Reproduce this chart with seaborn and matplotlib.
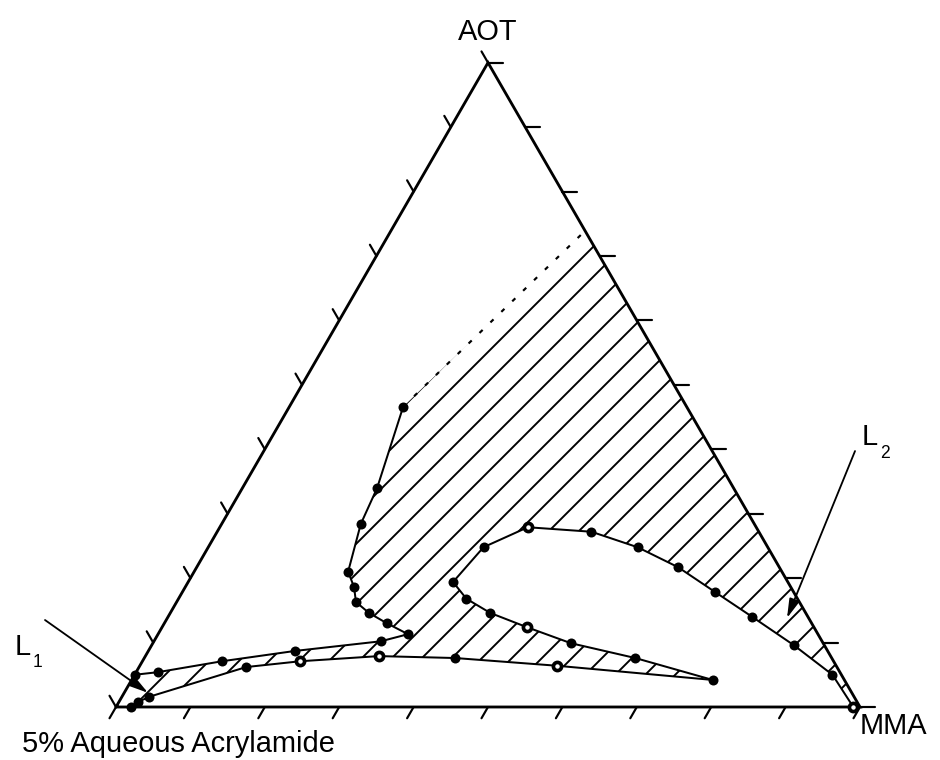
import numpy as np
import pandas as pd
import matplotlib
matplotlib.use("Agg")
import matplotlib.pyplot as plt
import seaborn as sns

# Ternary compositions in percent: MMA and AOT (5% aqueous acrylamide = 100 - MMA - AOT)
left_mma = [15.3, 18.1, 18.7, 20.7, 22.7, 24.1, 26.7, 29.9, 33.6]
left_aot = [46.6, 34.0, 28.4, 21.0, 18.6, 16.3, 14.6, 13.0, 11.3]
upper_mma = [33.6, 30.5, 19.7, 10.7, 2.9, 0.0]
upper_aot = [11.3, 10.2, 8.7, 7.1, 5.4, 5.0]
lower_mma = [78.1, 56.1, 41.8, 31.4, 21.2, 14.4, 3.7, 2.6, 2.0]
lower_aot = [4.2, 6.4, 7.6, 7.9, 7.1, 6.2, 1.6, 0.8, 0.0]
loop_mma = [99.1, 93.8, 86.3, 78.5, 71.5, 64.7, 57.7, 50.3, 41.4, 37.0, 35.6,
            38.7, 43.0, 49.0, 56.2, 66.0, 78.1]
loop_aot = [0.0, 5.0, 9.6, 14.0, 17.9, 21.7, 24.8, 27.2, 27.9, 24.8, 19.4,
            16.8, 14.6, 12.4, 9.9, 7.6, 4.2]
dotted_mma = [15.3, 26.1]
dotted_aot = [46.6, 73.9]
# points drawn as rings (small open centre)
ring_mma = [99.1, 41.4, 49.0, 56.1, 31.4, 21.2]
ring_aot = [0.0, 27.9, 12.4, 6.4, 7.9, 7.1]

corner_labels = ["5% Aqueous Acrylamide", "MMA", "AOT"]
n_ticks = 10

S3 = np.sqrt(3) / 2


def tern(mma, aot):
    b = np.asarray(mma, float) / 100.0
    c = np.asarray(aot, float) / 100.0
    return b + c / 2.0, c * S3


DPI = 90
k = 120 / DPI  # point-size scale so pixel sizes stay fixed

sns.set_style("white")
plt.rcParams["font.family"] = ["Liberation Sans", "DejaVu Sans"]
plt.rcParams["text.color"] = "black"
plt.rcParams["hatch.linewidth"] = 1.15 * k

fig = plt.figure(figsize=(940 / DPI, 760 / DPI), dpi=DPI)
ax = fig.add_axes([0, 0, 1, 1])
ax.set_xlim(-116 / 744, 824 / 744)
ax.set_ylim(-53 / 744, 707 / 744)
ax.axis("off")

# hatched two-phase region
poly_mma = dotted_mma + [100.0] + loop_mma + lower_mma[1:] + upper_mma[::-1] + left_mma[::-1]
poly_aot = dotted_aot + [0.0] + loop_aot + lower_aot[1:] + upper_aot[::-1] + left_aot[::-1]
px, py = tern(poly_mma, poly_aot)
ax.fill(px, py, facecolor="none", edgecolor="black", hatch="/", linewidth=0, zorder=1)

# triangle
tx, ty = tern([0, 100, 0, 0], [0, 0, 100, 0])
ax.plot(tx, ty, color="black", lw=1.7 * k, solid_joinstyle="miter", zorder=3)

# ticks
tl = 13 / 744
for i in range(n_ticks + 1):
    f = i / n_ticks
    x0, y0 = f, 0.0
    ax.plot([x0, x0 + tl * np.cos(np.radians(240))], [y0, y0 + tl * np.sin(np.radians(240))],
            color="black", lw=1.3 * k, zorder=3)
    x0, y0 = f / 2, f * S3
    ax.plot([x0, x0 + tl * np.cos(np.radians(120))], [y0, y0 + tl * np.sin(np.radians(120))],
            color="black", lw=1.3 * k, zorder=3)
    x0, y0 = 1 - f / 2, f * S3
    ax.plot([x0, x0 + 15 / 744], [y0, y0], color="black", lw=1.3 * k, zorder=3)

# boundary curves
for m, a in [(left_mma + upper_mma[1:], left_aot + upper_aot[1:]),
             (lower_mma, lower_aot), (loop_mma, loop_aot)]:
    cx, cy = tern(m, a)
    sns.lineplot(x=cx, y=cy, sort=False, estimator=None, color="black", lw=1.2 * k, ax=ax, zorder=4)

dx, dy = tern(dotted_mma, dotted_aot)
ax.plot(dx, dy, color="black", lw=1.3 * k, linestyle=(0, (2.0, 5.0)), zorder=4)

# points
all_mma = left_mma + upper_mma[1:] + lower_mma + loop_mma[:-1]
all_aot = left_aot + upper_aot[1:] + lower_aot + loop_aot[:-1]
sx, sy = tern(all_mma, all_aot)
sns.scatterplot(x=sx, y=sy, s=36 * k * k, color="black", edgecolor="black", linewidth=0, ax=ax, zorder=5)
rx, ry = tern(ring_mma, ring_aot)
sns.scatterplot(x=rx, y=ry, s=24 * k * k, color="white", edgecolor="black", linewidth=2.2 * k, ax=ax, zorder=6)

# labels
fs = 17.4 * k
fs_sub = 10.5 * k
ax.text(-0.1263, -0.0605, corner_labels[0], fontsize=fs, ha="left", va="baseline")
ax.text(1.0, -0.0363, corner_labels[1], fontsize=fs, ha="left", va="baseline")
ax.text(0.5, 0.8965, corner_labels[2], fontsize=fs, ha="center", va="baseline")

ax.text(1.0027, 0.352, "L", fontsize=fs, ha="left", va="baseline")
ax.text(1.027, 0.335, "2", fontsize=fs_sub, ha="left", va="baseline")
ax.text(-0.1358, 0.070, "L", fontsize=fs, ha="left", va="baseline")
ax.text(-0.1116, 0.054, "1", fontsize=fs_sub, ha="left", va="baseline")

arrow = dict(arrowstyle="-|>,head_length=0.8,head_width=0.22", lw=1.1 * k, color="black",
             shrinkA=0, shrinkB=0, mutation_scale=12 * k)
bx, by = tern([3.2], [2.2])
ax.annotate("", xy=(bx[0], by[0]), xytext=(-0.0954, 0.1169), arrowprops=arrow, zorder=7)
ax.annotate("", xy=(0.9019, 0.1196), xytext=(0.9933, 0.344), arrowprops=arrow, zorder=7)

fig.savefig("out.png", dpi=DPI, facecolor="white")
